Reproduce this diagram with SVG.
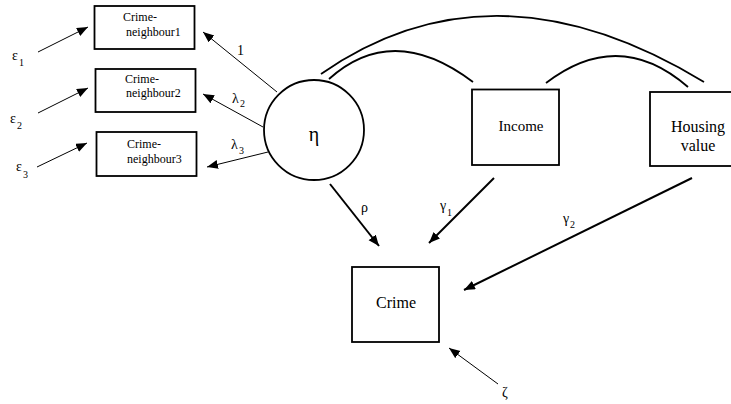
<svg xmlns="http://www.w3.org/2000/svg" width="731" height="404" viewBox="0 0 731 404">
<defs>
<marker id="ah" markerUnits="userSpaceOnUse" markerWidth="12" markerHeight="10" refX="11" refY="4.5" orient="auto">
<path d="M0,0 L11,4.5 L0,9 Z" fill="#000"/>
</marker>
<style>
.box{fill:#fff;stroke:#000;stroke-width:1.8}
.thin{stroke:#000;stroke-width:1;fill:none}
.thick{stroke:#000;stroke-width:2;fill:none}
.arc{stroke:#000;stroke-width:1.8;fill:none}
</style>
</defs>
<rect width="731" height="404" fill="#fff"/>
<g fill="#000" font-family="'Liberation Serif', 'Times New Roman', serif">
<g id="cn1"><rect class="box" x="94.5" y="6" width="100" height="43"/><text font-size="12" x="123" y="21">Crime-</text><text font-size="12" x="126" y="36">neighbour1</text></g>
<g id="cn2"><rect class="box" x="95.5" y="69" width="100" height="43"/><text font-size="12" x="125" y="83">Crime-</text><text font-size="12" x="126" y="97">neighbour2</text></g>
<g id="cn3"><rect class="box" x="96.5" y="132" width="100" height="44"/><text font-size="12" x="127" y="148">Crime-</text><text font-size="12" x="127" y="163">neighbour3</text></g>
<g id="eta"><circle cx="314" cy="130" r="50" fill="#fff" stroke="#000" stroke-width="1.8"/><text x="314" y="141" font-size="20" text-anchor="middle">η</text></g>
<g id="income"><rect class="box" x="472" y="89.5" width="87" height="75.5"/><text font-size="15" x="521" y="131" text-anchor="middle">Income</text></g>
<g id="housing"><rect class="box" x="650" y="92" width="85" height="74"/><text font-size="16" x="698" y="132" text-anchor="middle">Housing</text><text font-size="16" x="698" y="151" text-anchor="middle">value</text></g>
<g id="crime"><rect class="box" x="352" y="267" width="87" height="75"/><text font-size="16" x="396" y="308" text-anchor="middle">Crime</text></g>
<g id="connectors">
<line class="thin" x1="38" y1="52" x2="88" y2="27" marker-end="url(#ah)"/>
<line class="thin" x1="38" y1="113" x2="88" y2="88" marker-end="url(#ah)"/>
<line class="thin" x1="37" y1="167" x2="87" y2="143" marker-end="url(#ah)"/>
<line class="thin" x1="277" y1="92" x2="203" y2="32" marker-end="url(#ah)"/>
<line class="thin" x1="263" y1="127" x2="203" y2="94" marker-end="url(#ah)"/>
<line class="thin" x1="268" y1="152" x2="207" y2="167" marker-end="url(#ah)"/>
<line class="thick" x1="330" y1="184" x2="379" y2="246" marker-end="url(#ah)"/>
<line class="thick" x1="494" y1="178" x2="429" y2="243" marker-end="url(#ah)"/>
<line class="thick" x1="692" y1="178" x2="464" y2="290" marker-end="url(#ah)"/>
<line class="thin" x1="498" y1="384" x2="449" y2="348" marker-end="url(#ah)"/>
<path class="arc" d="M321,74 Q493.5,-46 704,82"/>
<path class="arc" d="M329,79 Q393,21.5 473,82"/>
<path class="arc" d="M546,83 Q619,27 688,87"/>
</g>
<g id="labels" font-size="14">
<text x="12" y="60">ε</text><text font-size="10" x="19" y="66">1</text>
<text x="10" y="123">ε</text><text font-size="10" x="17" y="129">2</text>
<text x="16" y="171">ε</text><text font-size="10" x="23" y="178">3</text>
<text x="237" y="55">1</text>
<text x="232" y="103">λ</text><text font-size="10" x="240" y="107">2</text>
<text x="231" y="149">λ</text><text font-size="10" x="239" y="154">3</text>
<text x="361" y="212">ρ</text>
<text x="440" y="210">γ</text><text font-size="10" x="447" y="216">1</text>
<text x="563" y="223">γ</text><text font-size="10" x="570" y="228">2</text>
<text x="502" y="397">ζ</text>
</g>
</g>
</svg>
